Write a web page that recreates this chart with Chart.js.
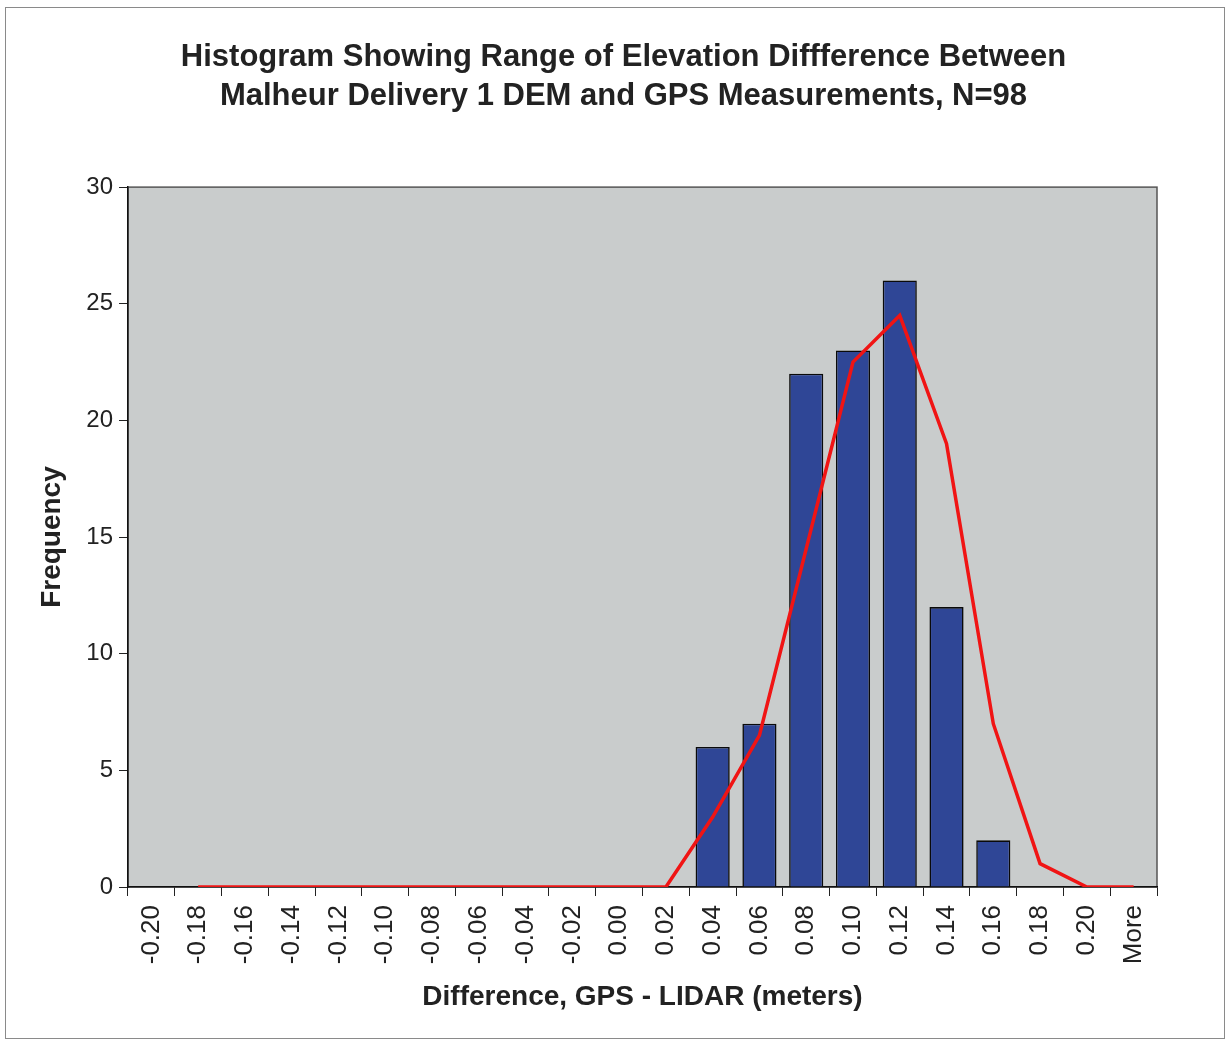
<!DOCTYPE html>
<html>
<head>
<meta charset="utf-8">
<script src="https://cdn.jsdelivr.net/npm/chart.js@4/dist/chart.umd.min.js"></script>
<style>
  body { margin: 0; background: #fff; }
  #wrap { position: relative; width: 1228px; height: 1040px; }
  #frame { position: absolute; left: 5px; top: 7px; width: 1220px; height: 1032px;
           border: 1px solid #8a8a8a; box-sizing: border-box; pointer-events: none; }
</style>
</head>
<body>
<div id="wrap">
  <canvas id="histChart" width="1228" height="1040"></canvas>
  <div id="frame"></div>
</div>
<script>
const bins = ['-0.20', '-0.18', '-0.16', '-0.14', '-0.12', '-0.10', '-0.08', '-0.06', '-0.04', '-0.02',
  '0.00', '0.02', '0.04', '0.06', '0.08', '0.10', '0.12', '0.14', '0.16', '0.18', '0.20', 'More']
const frequency = [0, 0, 0, 0, 0, 0, 0, 0, 0, 0, 0, 0, 6, 7, 22, 23, 26, 12, 2, 0, 0, 0]
// red trend line (2 bin moving average)
const trend = [null, 0, 0, 0, 0, 0, 0, 0, 0, 0, 0, 0, 3, 6.5, 14.5, 22.5, 24.5, 19, 7, 1, 0, 0]
const yTicks = [0, 5, 10, 15, 20, 25, 30]

const FONT = "'Liberation Sans', Arial, sans-serif"

// gray plot background + frame
const plotBg = {
  id: 'plotBg',
  afterLayout(chart) {
    // original title sits a bit right of the padded centre
    chart.titleBlock.left += 30
    chart.titleBlock.right += 30
  },
  beforeDraw(chart) {
    const {ctx, chartArea: a} = chart
    ctx.save()
    ctx.fillStyle = '#c9cccc'
    ctx.fillRect(a.left, a.top, a.right - a.left, a.bottom - a.top)
    ctx.strokeStyle = '#555'
    ctx.lineWidth = 1.5
    ctx.strokeRect(a.left, a.top, a.right - a.left, a.bottom - a.top)
    ctx.restore()
  }
}

const ctx = document.getElementById('histChart').getContext('2d')
new Chart(ctx, {
  data: {
    labels: bins,
    datasets: [
      {
        type: 'line',
        data: trend,
        borderColor: '#f01414',
        borderWidth: 3.5,
        pointRadius: 0,
        tension: 0,
        order: 0
      },
      {
        type: 'bar',
        data: frequency,
        backgroundColor: '#2f4696',
        borderColor: '#0a0a0a',
        borderWidth: 1.6,
        barPercentage: 0.73,
        categoryPercentage: 1,
        order: 1
      }
    ]
  },
  options: {
    responsive: false,
    animation: false,
    layout: {padding: {left: 30, right: 71, top: 0, bottom: 22}},
    plugins: {
      legend: {display: false},
      tooltip: {enabled: false},
      title: {
        display: true,
        text: ['Histogram Showing Range of Elevation Diffference Between',
               'Malheur Delivery 1 DEM and GPS Measurements, N=98'],
        color: '#222',
        font: {family: FONT, size: 31, weight: 'bold', lineHeight: 1.26},
        padding: {top: 38, bottom: 71}
      }
    },
    scales: {
      x: {
        grid: {drawOnChartArea: false, drawTicks: true, tickLength: 9, color: '#222', offset: true},
        border: {color: '#111', width: 1.5},
        ticks: {
          color: '#222', minRotation: 90, maxRotation: 90, autoSkip: false, padding: 9,
          font: {family: FONT, size: 26}
        },
        title: {
          display: true, text: 'Difference, GPS - LIDAR (meters)', color: '#222',
          font: {family: FONT, size: 28, weight: 'bold'}, padding: {top: 10, bottom: 4}
        },
        afterFit(scale) { scale.height = 131 }
      },
      y: {
        min: 0, max: 30,
        afterBuildTicks(scale) { scale.ticks = yTicks.map(v => ({value: v})) },
        grid: {drawOnChartArea: false, drawTicks: true, tickLength: 9, color: '#222'},
        border: {color: '#111', width: 1.5},
        ticks: {color: '#222', padding: 6, font: {family: FONT, size: 24}},
        title: {
          display: true, text: 'Frequency', color: '#222',
          font: {family: FONT, size: 28, weight: 'bold'}, padding: {top: 5, bottom: 10}
        },
        afterFit(scale) { scale.width = 98 }
      }
    }
  },
  plugins: [plotBg]
})
</script>
</body>
</html>
